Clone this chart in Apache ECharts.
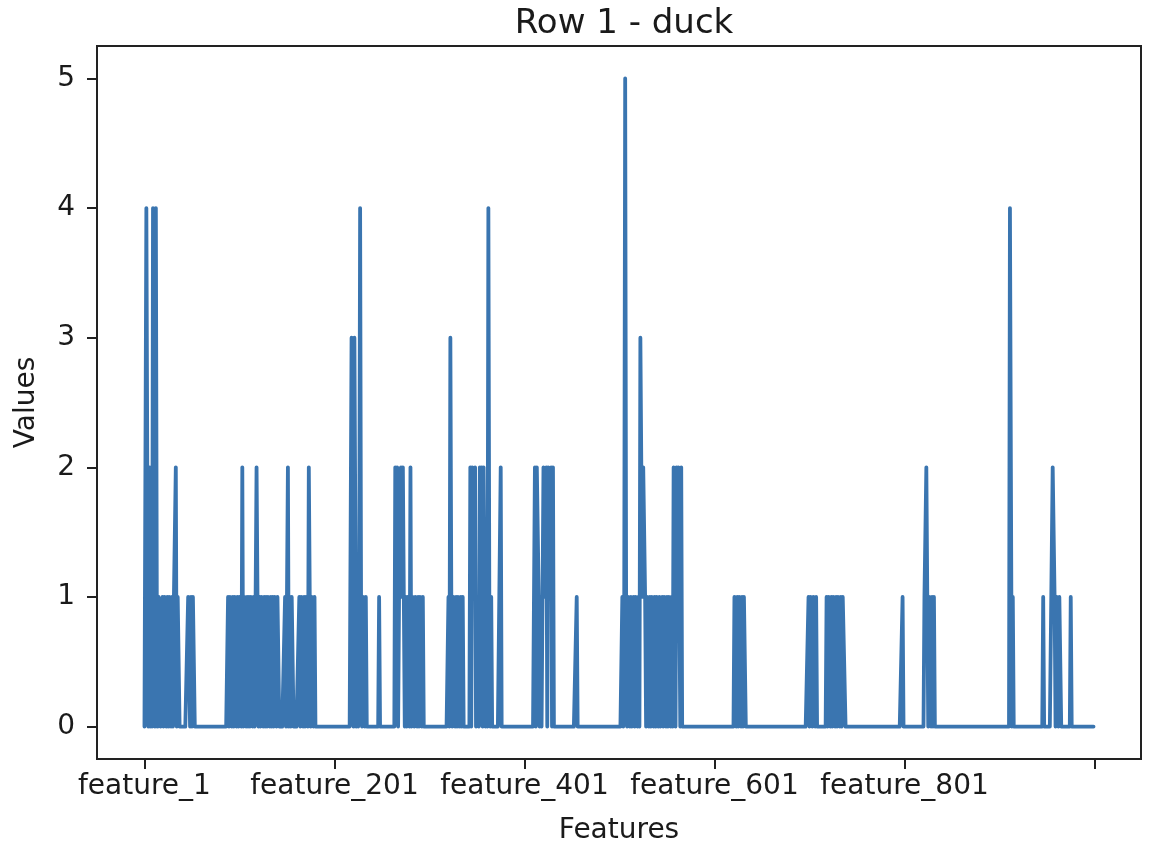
<!DOCTYPE html>
<html>
<head>
<meta charset="utf-8">
<script src="https://cdn.jsdelivr.net/npm/echarts@6/dist/echarts.min.js"></script>
<style>
  html, body { margin: 0; padding: 0; background: #ffffff; }
  #chart { width: 1156px; height: 850px; }
</style>
</head>
<body>
<div id="chart"></div>
<script>
// Values, one digit per feature (feature_1 ... feature_1000), 100 per row.
const rows0 = "0044020204 4041011001 0110101101 0112011000 0000001101 0110000000 0000000000 0000000000 0000000010 1101011010";
const rows1 = "1102011010 1011010121 0101101010 1101010110 1100000010 1201011000 0001011010 1102101101 0000000000 0000000000";
const rows2 = "0000000000 0000000033 0330101410 1101000000 0000000100 0000000000 0000212011 2122010110 2011011010 1101000000";
const rows3 = "0000000000 0000000000 1031011010 1101010000 0002022120 1102120210 1041010000 0000020000 0000000000 0000000000";
const rows4 = "0000000000 0202210101 2212022120 2000000000 0000000000 0000010000 0000000000 0000000000 0000000000 0000000000";
const rows5 = "0001015101 1010010110 1032122101 1010110101 1010010110 1011010220 2122020000 0000000000 0000000000 0000000000";
const rows6 = "0000000000 0000000000 0110101101 0110000000 0000000000 0000000000 0000000000 0000000000 0000000000 0000000001";
const rows7 = "0110110100 0000000010 1101011010 1101011100 0000000000 0000000000 0000000000 0000000000 0000000000 0000000010";
const rows8 = "0000000000 0000000000 0112101101 0100000000 0000000000 0000000000 0000000000 0000000000 0000000000 0000000000";
const rows9 = "0000000000 0440100000 0000000000 0000000000 0000001000 0000002210 1101100000 0000010000 0000000000 0000000000";

const valueRows = [rows0, rows1, rows2, rows3, rows4, rows5, rows6, rows7, rows8, rows9];
const values = valueRows.join('').replace(/\s+/g, '').split('').map(Number);
const categories = values.map((v, i) => 'feature_' + (i + 1));

const xTickPositions = [0, 200, 400, 600, 800, 1000];
const xTickLabels = ['feature_1', 'feature_201', 'feature_401', 'feature_601', 'feature_801', ''];
const yTicks = [0, 1, 2, 3, 4, 5];

const seriesData = values.map((v, i) => [i, v]);

const chart = echarts.init(document.getElementById('chart'), null, { renderer: 'canvas' });
const FONT = 'DejaVu Sans';
const TXT = '#1a1a1a';
const AX = '#222222';

chart.setOption({
  animation: false,
  backgroundColor: '#ffffff',
  title: {
    text: 'Row 1 - duck',
    left: 619,
    textAlign: 'center',
    top: 2,
    textStyle: { fontFamily: FONT, fontSize: 34, fontWeight: 'normal', color: TXT }
  },
  grid: {
    left: 97, right: 15, top: 46, bottom: 88,
    show: true, borderColor: AX, borderWidth: 2, backgroundColor: 'transparent'
  },
  xAxis: {
    type: 'value',
    min: -49.95,
    max: 1048.95,
    name: 'Features',
    nameLocation: 'middle',
    nameGap: 58,
    nameTextStyle: { fontFamily: FONT, fontSize: 28, color: TXT },
    axisLine: { show: true, onZero: false, lineStyle: { color: AX, width: 2 } },
    axisTick: { show: true, inside: false, length: 10, customValues: xTickPositions, lineStyle: { color: AX, width: 2 } },
    axisLabel: {
      show: true, margin: 14, customValues: xTickPositions.slice(0, 5),
      fontFamily: FONT, fontSize: 28, color: TXT,
      formatter: function (v) {
        const k = xTickPositions.indexOf(Math.round(v));
        return k >= 0 ? xTickLabels[k] : '';
      }
    },
    splitLine: { show: false }
  },
  yAxis: {
    type: 'value',
    min: -0.25,
    max: 5.25,
    name: 'Values',
    nameLocation: 'middle',
    nameGap: 56,
    nameRotate: 90,
    nameTextStyle: { fontFamily: FONT, fontSize: 28, color: TXT },
    axisLine: { show: true, onZero: false, lineStyle: { color: AX, width: 2 } },
    axisTick: { show: true, inside: false, length: 10, customValues: yTicks, lineStyle: { color: AX, width: 2 } },
    axisLabel: {
      show: true, margin: 22, customValues: yTicks,
      fontFamily: FONT, fontSize: 28, color: TXT,
      formatter: function (v) { return String(Math.round(v)); }
    },
    splitLine: { show: false }
  },
  series: [{
    type: 'line',
    data: seriesData,
    showSymbol: false,
    symbol: 'none',
    sampling: null,
    lineStyle: { color: '#3a75b0', width: 3.8, join: 'round', cap: 'round' },
    itemStyle: { color: '#3a75b0' },
    z: 3
  }]
});
</script>
</body>
</html>
